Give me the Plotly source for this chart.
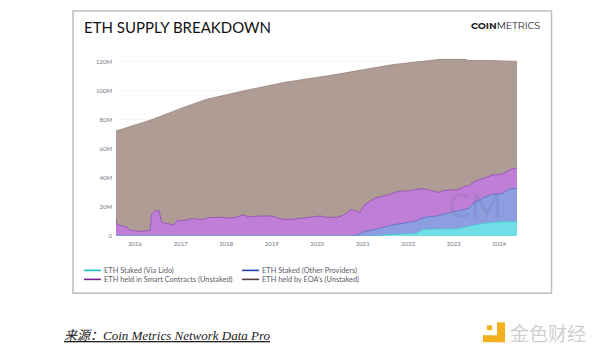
import pandas as pd
import plotly.graph_objects as go

TITLE = "ETH SUPPLY BREAKDOWN"
Y_TICKS = [0, 20, 40, 60, 80, 100, 120]
Y_LABELS = ["0", "20M", "40M", "60M", "80M", "100M", "120M"]
X_YEARS = [2016, 2017, 2018, 2019, 2020, 2021, 2022, 2023, 2024]

# Stack tops in millions of ETH
total_years = [2015.58, 2016.0, 2016.33, 2017.0, 2017.57, 2018.37, 2019.26, 2020.3, 2021.67, 2022.7, 2023.26, 2023.33, 2023.8, 2024.39]
total_top = [72.4, 76.5, 79.8, 87.9, 94.3, 100.0, 105.8, 110.8, 118.2, 121.8, 121.8, 121.0, 121.0, 120.4]

smart_years = [2015.58, 2015.585, 2015.60, 2015.67, 2015.82, 2015.89, 2016.11, 2016.33, 2016.36, 2016.44, 2016.53, 2016.58, 2016.77, 2016.84, 2016.92, 2017.14, 2017.25, 2017.39, 2017.47, 2017.61, 2017.87, 2018.09, 2018.23, 2018.37, 2018.49, 2018.75, 2019.0, 2019.15, 2019.26, 2019.44, 2019.7, 2019.85, 2020.07, 2020.22, 2020.44, 2020.58, 2020.73, 2020.84, 2020.93, 2021.02, 2021.06, 2021.28, 2021.53, 2021.79, 2022.01, 2022.12, 2022.34, 2022.56, 2022.69, 2022.74, 2022.89, 2023.07, 2023.26, 2023.33, 2023.44, 2023.66, 2023.84, 2024.06, 2024.25, 2024.39]
smart_top = [12.6, 12.0, 8.0, 7.3, 6.2, 4.0, 3.2, 3.9, 15.0, 17.5, 17.5, 9.6, 8.0, 7.6, 10.5, 11.0, 12.0, 11.8, 11.3, 12.6, 12.9, 12.4, 13.1, 14.7, 13.3, 13.8, 13.8, 12.2, 11.5, 11.5, 12.4, 13.1, 13.8, 12.9, 12.9, 14.3, 18.0, 17.8, 16.0, 20.7, 22.0, 26.4, 28.0, 31.0, 31.0, 32.0, 32.6, 30.8, 30.0, 31.0, 31.7, 31.7, 34.5, 34.5, 37.5, 39.8, 42.0, 42.5, 46.0, 46.7]

other_years = [2015.58, 2020.8, 2020.91, 2021.02, 2021.28, 2021.5, 2021.68, 2022.16, 2022.34, 2022.63, 2023.0, 2023.33, 2023.44, 2023.66, 2023.84, 2024.06, 2024.21, 2024.39]
other_top = [0, 0, 1.1, 3.0, 4.6, 6.4, 7.8, 10.1, 12.9, 13.8, 16.8, 18.9, 23.0, 26.4, 28.7, 29.2, 32.2, 32.9]

lido_years = [2015.58, 2021.28, 2021.64, 2022.16, 2022.34, 2022.63, 2023.07, 2023.44, 2023.66, 2023.95, 2024.28, 2024.39]
lido_top = [0, 0, 1.1, 1.8, 4.6, 4.6, 5.0, 7.4, 8.7, 9.7, 10.1, 9.7]

LEGEND = ["ETH Staked (Via Lido)", "ETH Staked (Other Providers)", "ETH held in Smart Contracts (Unstaked)", "ETH held by EOA's (Unstaked)"]


def to_dates(years):
    out = []
    for y in years:
        base = pd.Timestamp(int(y), 1, 1)
        out.append(base + pd.Timedelta(days=(y - int(y)) * 365.25))
    return out


W, H = 600, 355
L, R, T, B = 116, 517, 56, 236.5
Y_MAX = 120 * (B - T) / 174.5


def px(x):
    return (x - L) / (R - L)


def py(y):
    return (B - y) / (B - T)


fig = go.Figure()
layers = [
    (LEGEND[3], total_years, total_top, "#AF9C94", "#97847B"),
    (LEGEND[2], smart_years, smart_top, "#C07FD6", "#8F4DB4"),
    (LEGEND[1], other_years, other_top, "#8C9EDF", "#5A6FCC"),
    (LEGEND[0], lido_years, lido_top, "#70DEE6", "#4CC8D6"),
]
for name, yrs, vals, fc, lc in layers:
    fig.add_trace(go.Scatter(x=to_dates(yrs), y=vals, name=name, mode="lines", fill="tozeroy",
                             fillcolor=fc, line=dict(color=lc, width=0.8), showlegend=False))

annotations = []


def label(x, y, text, size, color, anchor="left", family="Lato"):
    annotations.append(dict(x=px(x), y=py(y), xref="paper", yref="paper", text=text, showarrow=False,
                            xanchor=anchor, yanchor="middle", align="left", borderpad=0, borderwidth=0,
                            font=dict(size=size, color=color, family=family)))


label(84, 27, TITLE, 15, "#111111")
label(471, 25, "<b>COIN</b>METRICS", 9.6, "#222222", family="Montserrat, Lato")
label(475, 205, "CM", 34, "rgba(110,105,170,0.22)", "center")

keys = [(84, 271, "#17BFCB", LEGEND[0]), (242, 271, "#2342B0", LEGEND[1]),
        (84, 280, "#7A1E96", LEGEND[2]), (242, 280, "#55413A", LEGEND[3])]
shapes = [dict(type="rect", xref="paper", yref="paper", x0=px(73), x1=px(551.5), y0=py(294), y1=py(11),
               line=dict(color="#BDBDBD", width=1.5), layer="below")]
for x, y, c, t in keys:
    shapes.append(dict(type="line", xref="paper", yref="paper", x0=px(x), x1=px(x + 17), y0=py(y), y1=py(y),
                       line=dict(color=c, width=1.6)))
    label(x + 20, y, t, 7.4, "#5C5C6A")

label(64, 336, "<i><u>来源：Coin Metrics Network Data Pro</u></i>", 13, "#222222",
      family="Liberation Serif, Noto Sans CJK SC")
label(510, 333, "金色财经", 19, "#CFCFCF", family="Noto Sans CJK SC")

for x0, x1, y0, y1, c in [(497, 505, 323, 343, "#F2B01E"), (483, 505, 336, 343, "#F2B01E"), (487, 492, 326, 331, "#F2B01E")]:
    shapes.append(dict(type="rect", xref="paper", yref="paper", x0=px(x0), x1=px(x1), y0=py(y1), y1=py(y0),
                       fillcolor=c, line=dict(width=0)))

fig.update_layout(
    width=W, height=H, autosize=False, showlegend=False,
    paper_bgcolor="white", plot_bgcolor="white",
    margin=dict(l=L, r=W - R, t=T, b=H - B, pad=0),
    annotations=annotations, shapes=shapes,
    xaxis=dict(type="date", range=to_dates([2015.58, 2024.39]), tickvals=[f"{y}-01-01" for y in X_YEARS],
               ticktext=[str(y) for y in X_YEARS], showgrid=False, zeroline=False, showline=False, ticks="",
               ticklabelstandoff=3, tickfont=dict(size=6, color="#777783", family="Lato")),
    yaxis=dict(range=[0, Y_MAX], tickvals=Y_TICKS, ticktext=Y_LABELS, gridcolor="#F6F6F6", gridwidth=1,
               zeroline=False, showline=False, ticks="", ticklen=0,
               ticklabelstandoff=3, tickfont=dict(size=6, color="#777783", family="Lato")),
)
fig.write_html("out.html", config={"displayModeBar": False},
               post_script="document.body.style.margin='0';")
